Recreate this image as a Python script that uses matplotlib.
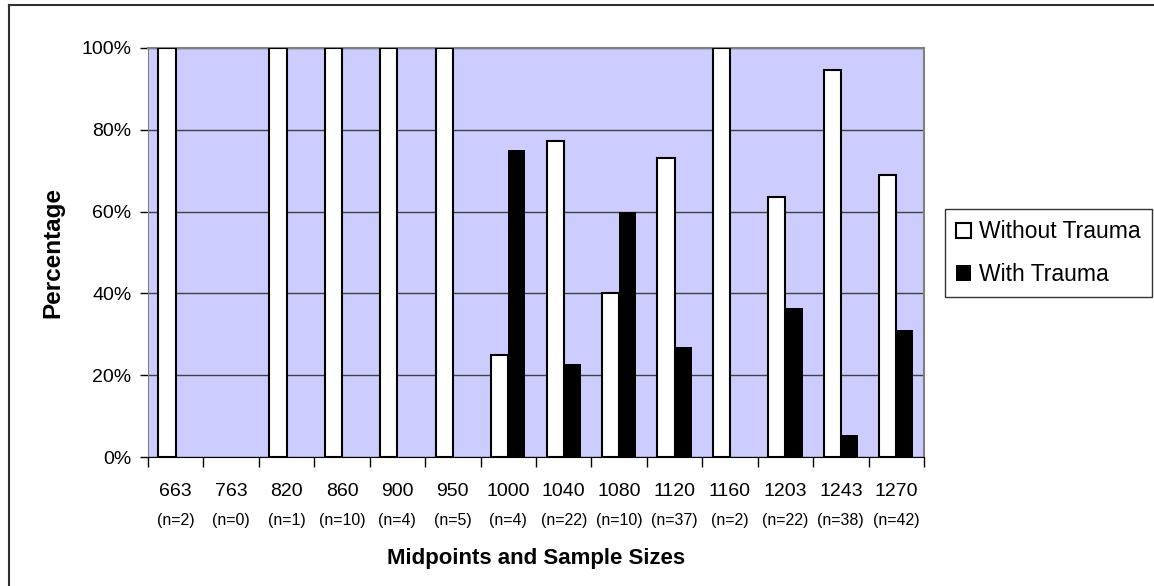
import numpy as np
import matplotlib
matplotlib.use("Agg")
import matplotlib.pyplot as plt
from matplotlib.lines import Line2D

plt.rcParams["font.family"] = ["Liberation Sans", "DejaVu Sans"]

midpoints = ["663", "763", "820", "860", "900", "950", "1000", "1040",
             "1080", "1120", "1160", "1203", "1243", "1270"]
sample_sizes = [2, 0, 1, 10, 4, 5, 4, 22, 10, 37, 2, 22, 38, 42]

# percentage of cases per midpoint (763 has no cases)
without_trauma = [100, np.nan, 100, 100, 100, 100, 25, 77.3,
                  40, 73.0, 100, 63.6, 94.7, 69.0]
with_trauma = [0, np.nan, 0, 0, 0, 0, 75, 22.7,
               60, 27.0, 0, 36.4, 5.3, 31.0]

fig = plt.figure(figsize=(11.54, 5.86), dpi=100)
ax = fig.add_axes([0.1282, 0.2201, 0.6725, 0.6980])
ax.set_facecolor("#CCCCFF")

x = np.arange(len(midpoints))
w = 0.31
ax.bar(x - w / 2, without_trauma, w, color="white", edgecolor="black",
       linewidth=1.5, label="Without Trauma", zorder=3)
ax.bar(x + w / 2, with_trauma, w, color="black", edgecolor="black",
       linewidth=0, label="With Trauma", zorder=3)

ax.set_xlim(-0.5, len(midpoints) - 0.5)
ax.set_ylim(0, 100)
ax.set_yticks(np.arange(0, 101, 20))
ax.set_yticklabels([f"{v}%" for v in range(0, 101, 20)], fontsize=14)
ax.yaxis.grid(True, color="#404040", linewidth=1.0, zorder=1)

# tick marks sit between categories, labels are drawn as text below
ax.set_xticks(np.arange(-0.5, len(midpoints)))
ax.set_xticklabels([])
ax.tick_params(axis="x", direction="out", length=7, width=1, color="black")
ax.tick_params(axis="y", direction="out", length=6, width=1, color="black", pad=6)

trans = ax.get_xaxis_transform()
for i, (m, n) in enumerate(zip(midpoints, sample_sizes)):
    ax.text(i, -0.085, m, transform=trans, ha="center", va="center",
            fontsize=14)
    ax.text(i, -0.155, f"(n={n})", transform=trans, ha="center",
            va="center", fontsize=11.5)

ax.text(0.5, -0.248, "Midpoints and Sample Sizes", transform=ax.transAxes,
        ha="center", va="center", fontsize=16, fontweight="bold")
ax.set_ylabel("Percentage", fontsize=17.5, fontweight="bold", labelpad=12)

for side in ["top", "right"]:
    ax.spines[side].set_color("#808080")
    ax.spines[side].set_linewidth(1.5)
ax.spines["left"].set_color("#808080")
ax.spines["bottom"].set_color("black")

fig.legend(loc="upper left", bbox_to_anchor=(0.8189, 0.6433),
           fontsize=16.5, frameon=True, fancybox=False, edgecolor="black",
           handlelength=0.65, handleheight=0.65, handletextpad=0.35,
           borderpad=0.5, labelspacing=0.85, borderaxespad=0)

# outer chart frame
fig.add_artist(Line2D([0.0075, 0.0075], [0, 0.9915], color="#303030",
                      linewidth=1.5, transform=fig.transFigure))
fig.add_artist(Line2D([0.0075, 1], [0.9915, 0.9915], color="#303030",
                      linewidth=1.5, transform=fig.transFigure))

fig.savefig("out.png", dpi=100)
